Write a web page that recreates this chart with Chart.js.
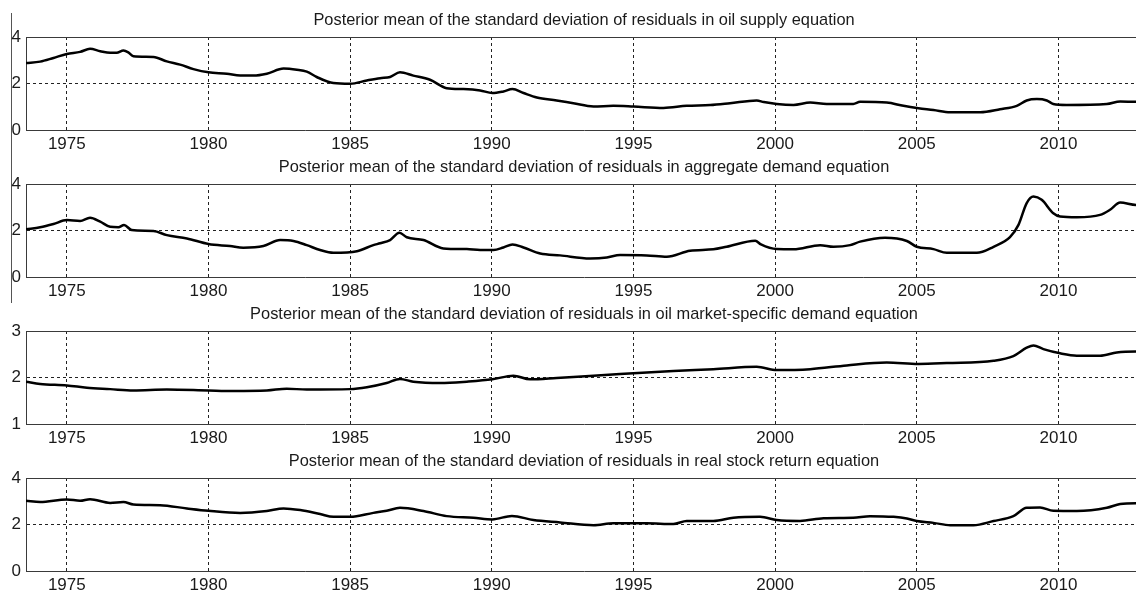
<!DOCTYPE html>
<html>
<head>
<meta charset="utf-8">
<script src="https://cdn.jsdelivr.net/npm/chart.js@4.4.1/dist/chart.umd.min.js"></script>
<style>
html, body { margin: 0; padding: 0; background: #fff; overflow: hidden; width: 1136px; height: 591px; }
#stage { position: relative; width: 1136px; height: 591px; overflow: hidden; }
.panel { position: absolute; left: 0; }
#edge { position: absolute; left: 11px; top: 13px; width: 1px; height: 290px; background: #555; }
</style>
</head>
<body>
<div id="stage">
  <div id="edge"></div>
  <canvas id="c1" class="panel"></canvas>
  <canvas id="c2" class="panel"></canvas>
  <canvas id="c3" class="panel"></canvas>
  <canvas id="c4" class="panel"></canvas>
</div>
<script>
// ---------------- DATA ----------------
const xTicks = [1975, 1980, 1985, 1990, 1995, 2000, 2005, 2010];
const yTicksA = [0, 2, 4];
const yTicksB = [1, 2, 3];
const xMin = 1973.56;
const xMax = 2012.95;

const title1 = "Posterior mean of the standard deviation of residuals in oil supply equation";
const title2 = "Posterior mean of the standard deviation of residuals in aggregate demand equation";
const title3 = "Posterior mean of the standard deviation of residuals in oil market-specific demand equation";
const title4 = "Posterior mean of the standard deviation of residuals in real stock return equation";

const supplyYears = [1973.56,1974.06,1974.53,1975.0,1975.47,1975.82,1976.18,1976.53,1976.76,1977.0,1977.17,1977.35,1978.06,1978.53,1979.0,1979.47,1980.0,1980.65,1981.12,1981.59,1982.06,1982.65,1983.12,1983.47,1983.82,1984.41,1985.0,1985.59,1986.06,1986.41,1986.76,1987.23,1987.82,1988.41,1989.0,1989.59,1990.02,1990.41,1990.73,1991.12,1991.59,1992.29,1992.88,1993.59,1994.29,1995.0,1996.06,1996.88,1997.71,1998.41,1999.35,1999.6,2000.06,2000.65,2001.24,2001.82,2002.76,2003.0,2003.94,2004.53,2005.06,2005.59,2006.18,2007.24,2007.94,2008.53,2008.88,2009.24,2009.59,2009.82,2010.29,2011.71,2012.18,2012.74,2012.95];
const supplyValues = [2.88,2.94,3.10,3.27,3.36,3.49,3.39,3.32,3.32,3.42,3.34,3.17,3.14,2.95,2.81,2.62,2.48,2.42,2.34,2.34,2.42,2.64,2.59,2.51,2.28,2.02,1.99,2.13,2.23,2.28,2.48,2.34,2.16,1.80,1.76,1.70,1.59,1.66,1.76,1.59,1.40,1.27,1.15,1.01,1.04,1.01,0.95,1.04,1.07,1.15,1.27,1.20,1.12,1.08,1.18,1.12,1.12,1.21,1.18,1.04,0.94,0.86,0.76,0.76,0.89,1.04,1.27,1.33,1.27,1.12,1.08,1.12,1.23,1.21,1.21];

const demandYears = [1973.56,1974.06,1974.53,1975.0,1975.47,1975.82,1976.18,1976.53,1976.82,1977.02,1977.29,1978.06,1978.53,1979.24,1980.0,1980.76,1981.23,1981.94,1982.53,1983.0,1983.47,1983.94,1984.41,1985.24,1985.82,1986.06,1986.41,1986.74,1987.0,1987.59,1988.29,1989.12,1989.59,1990.06,1990.41,1990.73,1991.12,1991.71,1992.41,1993.47,1994.06,1994.53,1995.47,1996.18,1997.0,1997.82,1998.29,1999.3,1999.5,2000.06,2000.65,2001.59,2002.06,2002.65,2003.0,2003.88,2004.65,2005.0,2005.59,2006.06,2007.12,2007.71,2008.29,2008.59,2008.88,2009.12,2009.41,2009.82,2010.06,2010.65,2011.47,2011.82,2012.18,2012.74,2012.95];
const demandValues = [2.05,2.14,2.28,2.45,2.41,2.55,2.38,2.16,2.14,2.24,2.02,1.98,1.80,1.66,1.42,1.33,1.26,1.33,1.59,1.55,1.37,1.16,1.04,1.11,1.37,1.45,1.59,1.90,1.71,1.59,1.23,1.20,1.16,1.16,1.27,1.40,1.27,1.01,0.93,0.80,0.84,0.95,0.93,0.87,1.13,1.19,1.30,1.56,1.40,1.20,1.19,1.37,1.30,1.37,1.52,1.69,1.55,1.30,1.20,1.04,1.04,1.30,1.71,2.24,3.18,3.46,3.32,2.74,2.60,2.57,2.67,2.89,3.20,3.10,3.10];

const oilYears = [1973.56,1974.06,1975.0,1975.71,1976.53,1977.35,1978.53,1980.0,1980.88,1982.06,1982.76,1983.47,1985.0,1985.59,1986.29,1986.76,1987.23,1988.18,1989.12,1990.02,1990.76,1991.35,1992.29,1993.59,1995.0,1996.41,1997.82,1999.35,2000.06,2001.24,2002.53,2003.94,2005.06,2006.06,2007.71,2008.41,2008.88,2009.12,2009.47,2010.06,2010.65,2011.47,2012.06,2012.74,2012.95];
const oilValues = [1.91,1.86,1.83,1.78,1.75,1.72,1.74,1.72,1.71,1.72,1.76,1.74,1.75,1.79,1.88,1.97,1.91,1.88,1.91,1.96,2.04,1.96,1.99,2.04,2.09,2.14,2.18,2.23,2.16,2.18,2.26,2.32,2.29,2.31,2.36,2.46,2.64,2.69,2.61,2.52,2.47,2.47,2.54,2.56,2.56];

const stockYears = [1973.56,1974.06,1975.0,1975.47,1975.82,1976.53,1977.0,1977.35,1978.29,1979.24,1980.0,1981.12,1982.06,1982.65,1983.24,1983.94,1984.41,1985.0,1985.82,1986.29,1986.76,1987.59,1988.41,1989.35,1990.02,1990.71,1991.47,1992.41,1993.59,1994.29,1995.47,1996.41,1996.88,1997.82,1998.53,1999.47,2000.06,2000.88,2001.71,2002.76,2003.35,2004.18,2004.65,2005.0,2005.59,2006.18,2007.0,2007.71,2008.41,2008.88,2009.35,2009.82,2010.65,2011.71,2012.18,2012.74,2012.95];
const stockValues = [3.02,2.97,3.08,3.02,3.09,2.93,2.97,2.86,2.83,2.69,2.59,2.50,2.58,2.69,2.62,2.45,2.33,2.33,2.50,2.59,2.72,2.58,2.36,2.29,2.22,2.37,2.19,2.09,1.97,2.05,2.05,2.02,2.15,2.15,2.29,2.33,2.19,2.15,2.27,2.29,2.36,2.33,2.26,2.15,2.07,1.97,1.97,2.15,2.36,2.72,2.73,2.59,2.58,2.72,2.88,2.91,2.91];

// ---------------- DRAWING ----------------
const FONT = "'Liberation Sans', Arial, Helvetica, sans-serif";
const TEXT = '#1a1a1a';
const GRID = '#222';
const FRAME = '#3a3a3a';

const frameTop = {
  id: 'frameTop',
  afterDraw(chart) {
    const { ctx, chartArea: a } = chart;
    ctx.save();
    ctx.strokeStyle = FRAME;
    ctx.lineWidth = 1;
    ctx.beginPath();
    const y = Math.round(a.top) + 0.5;
    ctx.moveTo(a.left, y);
    ctx.lineTo(a.right, y);
    ctx.stroke();
    ctx.restore();
  }
};

function makePanel(id, canvasTop, title, years, values, yMin, yMax, yTicks) {
  const cv = document.getElementById(id);
  cv.width = 1143;
  cv.height = 144;
  cv.style.top = canvasTop + 'px';
  new Chart(cv, {
    type: 'line',
    data: {
      datasets: [{
        data: years.map((x, i) => ({ x: x, y: values[i] })),
        borderColor: '#000',
        borderWidth: 2.5,
        pointRadius: 0,
        cubicInterpolationMode: 'monotone',
        fill: false,
        borderJoinStyle: 'round'
      }]
    },
    options: {
      responsive: false,
      animation: false,
      devicePixelRatio: 1,
      layout: { padding: { left: 0, right: 1, top: 0, bottom: 0 } },
      plugins: {
        legend: { display: false },
        tooltip: { enabled: false },
        title: {
          display: true,
          text: title,
          fullSize: false,
          color: TEXT,
          font: { family: FONT, size: 16.4, weight: 'normal', lineHeight: '20px' },
          padding: { top: 0, bottom: 7 }
        }
      },
      scales: {
        x: {
          type: 'linear',
          min: xMin,
          max: xMax,
          afterBuildTicks: s => { s.ticks = xTicks.map(v => ({ value: v })); },
          afterFit: s => { s.height = 24; },
          ticks: {
            color: TEXT,
            font: { family: FONT, size: 17 },
            padding: 4,
            maxRotation: 0,
            autoSkip: false,
            callback: v => String(v)
          },
          grid: { color: GRID, lineWidth: 1, drawTicks: false },
          border: { display: true, color: FRAME, width: 1, dash: [3, 3] }
        },
        y: {
          min: yMin,
          max: yMax,
          afterBuildTicks: s => { s.ticks = yTicks.map(v => ({ value: v })); },
          afterFit: s => { s.width = 26; },
          ticks: {
            color: TEXT,
            font: { family: FONT, size: 17 },
            padding: 5,
            callback: v => String(v)
          },
          grid: {
            color: c => (c.tick && c.tick.value === 2) ? GRID : 'rgba(0,0,0,0)',
            lineWidth: 1,
            drawTicks: false
          },
          border: { display: true, color: FRAME, width: 1, dash: [3, 3] }
        }
      }
    },
    plugins: [frameTop]
  });
}

makePanel('c1', 10, title1, supplyYears, supplyValues, 0, 4, yTicksA);
makePanel('c2', 157, title2, demandYears, demandValues, 0, 4, yTicksA);
makePanel('c3', 304, title3, oilYears, oilValues, 1, 3, yTicksB);
makePanel('c4', 451, title4, stockYears, stockValues, 0, 4, yTicksA);
</script>
</body>
</html>
